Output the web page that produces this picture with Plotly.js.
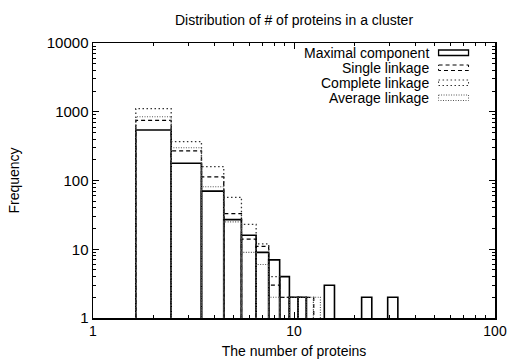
<!DOCTYPE html>
<html><head>
<script src="https://cdn.plot.ly/plotly-3.0.1.min.js"></script>
<style>body{margin:0;background:#fff}</style>
</head><body>
<div id="chart" style="width:510px;height:361px"></div>
<script>
// ---- data ----
const seriesNames = ["Maximal component", "Single linkage", "Complete linkage", "Average linkage"];
const maximalSizes  = [2, 3, 4, 5, 6, 7, 8, 9, 10, 11, 15, 23, 31];
const maximalCounts = [543, 178, 70, 27, 16, 9, 7, 4, 2, 2, 3, 2, 2];
const singleSizes   = [2, 3, 4, 5, 6, 7, 8, 9, 10, 11, 12];
const singleCounts  = [751, 269, 113, 33, 14, 11, 3, 2, 2, 2, 2];
const completeSizes = [2, 3, 4, 5, 6, 7, 8];
const completeCounts= [1108, 367, 159, 57, 23, 12, 4];
const averageSizes  = [2, 3, 4, 5, 6, 7, 8, 9, 10, 11, 12, 13];
const averageCounts = [847, 300, 81, 25, 9, 6, 2, 2, 2, 2, 2, 2];
const xTickVals = [1, 10, 100];
const xTickText = ["1", "10", "100"];
const yTickVals = [1, 10, 100, 1000, 10000];
const yTickText = ["1", "10", "100", "1000", "10000"];

// box outlines (gnuplot "boxes" on log x: boxes meet at geometric midpoints,
// an end box mirrors its inner half, an isolated box gets a fixed log half-width)
function boxes(sizes, counts) {
  const x = [], y = [];
  const ISO = 1.06;
  sizes.forEach((n, i) => {
    const prevAdj = i > 0 && sizes[i - 1] === n - 1;
    const nextAdj = i < sizes.length - 1 && sizes[i + 1] === n + 1;
    let lo = prevAdj ? Math.sqrt(n * (n - 1)) : null;
    let hi = nextAdj ? Math.sqrt(n * (n + 1)) : null;
    if (lo === null && hi !== null) lo = n * n / hi;
    if (hi === null && lo !== null) hi = n * n / lo;
    if (lo === null && hi === null) { lo = n / ISO; hi = n * ISO; }
    x.push(lo, lo, hi, hi, null);
    y.push(1, counts[i], counts[i], 1, null);
  });
  return {x, y};
}
const styles = [
  {color: "#000", width: 1.6, dash: "solid"},
  {color: "#000", width: 1.3, dash: "4px,3px"},
  {color: "#333", width: 1.3, dash: "1.5px,2.5px"},
  {color: "#555", width: 1.1, dash: "1px,1.5px"}
];
const data = [[maximalSizes, maximalCounts], [singleSizes, singleCounts],
              [completeSizes, completeCounts], [averageSizes, averageCounts]];
const traces = data.map((d, i) => {
  const b = boxes(d[0], d[1]);
  return {x: b.x, y: b.y, type: "scatter", mode: "lines", name: seriesNames[i],
          line: styles[i], connectgaps: false, showlegend: false, hoverinfo: "skip"};
});

// minor tick positions (2..9 within each decade)
const minorX = [], minorY = [];
for (let d = 1; d <= 10; d *= 10) for (let k = 2; k <= 9; k++) minorX.push(k * d);
for (let d = 1; d <= 1000; d *= 10) for (let k = 2; k <= 9; k++) minorY.push(k * d);

const font = "Liberation Sans, Arial, Helvetica, sans-serif";
const L = 92.5, R = 495, T = 43, B = 318;
const px2x = p => (p - L) / (R - L), px2y = p => (B - p) / (B - T);

// gnuplot-style key: right-aligned text with box sample on the right
const annotations = [], shapes = [];
const keyY = [52.5, 67.5, 82.5, 97.5];
seriesNames.forEach((nm, i) => {
  annotations.push({text: nm, xref: "paper", yref: "paper", x: px2x(431), y: px2y(keyY[i]),
    xanchor: "right", yanchor: "middle", showarrow: false,
    font: {family: font, size: 14, color: "#000"}});
  shapes.push({type: "rect", xref: "paper", yref: "paper",
    x0: px2x(438.5), x1: px2x(468.5), y0: px2y(keyY[i] - 2.5), y1: px2y(keyY[i] + 3),
    line: {color: styles[i].color, width: i === 0 ? 1.3 : 1, dash: styles[i].dash}});
});

const axisCommon = {
  type: "log", showline: true, linecolor: "#000", linewidth: 1.5, mirror: "allticks",
  ticks: "inside", ticklen: 6, tickcolor: "#000", tickwidth: 1, showgrid: false, zeroline: false,
  tickmode: "array"
};
const layout = {
  width: 510, height: 361,
  margin: {l: L, r: 510 - R, t: T, b: 361 - B},
  paper_bgcolor: "#fff", plot_bgcolor: "#fff",
  font: {family: font, size: 14, color: "#000"},
  title: {text: "Distribution of # of proteins in a cluster", x: 0.5, xref: "paper",
          y: 1 - 20 / 361, yref: "container", yanchor: "middle", font: {family: font, size: 14}},
  xaxis: Object.assign({}, axisCommon, {range: [0, 2], tickvals: xTickVals, ticktext: xTickText,
    tickfont: {family: font, size: 14, color: "#000"},
    minor: {tickmode: "array", tickvals: minorX, ticks: "inside", ticklen: 3, tickcolor: "#000", showgrid: false},
    title: {text: "The number of proteins", standoff: 8, font: {family: font, size: 14}}}),
  yaxis: Object.assign({}, axisCommon, {range: [0, 4], tickvals: yTickVals, ticktext: yTickText,
    tickfont: {family: font, size: 15, color: "#000"},
    minor: {tickmode: "array", tickvals: minorY, ticks: "inside", ticklen: 3, tickcolor: "#000", showgrid: false},
    title: {text: "Frequency", standoff: 24, font: {family: font, size: 14}}}),
  showlegend: false,
  annotations: annotations,
  shapes: shapes
};
Plotly.newPlot("chart", traces, layout, {staticPlot: true});
</script>
</body></html>
